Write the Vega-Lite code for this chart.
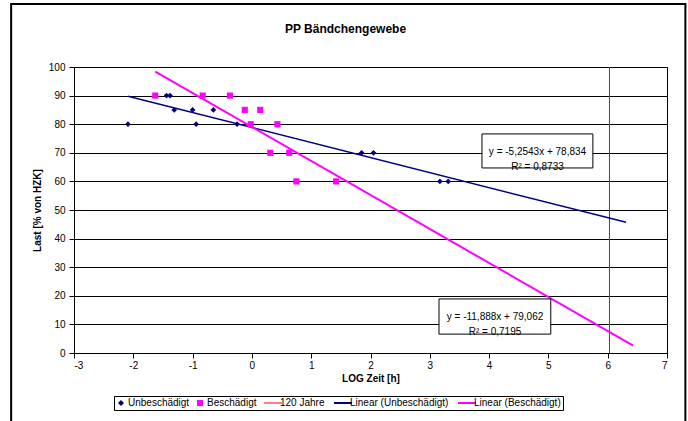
{
  "$schema": "https://vega.github.io/schema/vega-lite/v6.json",
  "width": 593,
  "height": 286,
  "autosize": {"type": "none"},
  "padding": {"left": 74, "top": 67, "right": 21, "bottom": 68},
  "title": {"text": "PP Bändchengewebe", "anchor": "middle", "dx": -25, "offset": -33, "fontSize": 12, "font": "Liberation Sans", "fontWeight": "bold", "color": "#000"},
  "datasets": {
    "pts": [
      {"x": -2.09, "y": 80, "serie": "Unbeschädigt"},
      {"x": -1.44, "y": 90, "serie": "Unbeschädigt"},
      {"x": -1.38, "y": 90, "serie": "Unbeschädigt"},
      {"x": -1.31, "y": 85, "serie": "Unbeschädigt"},
      {"x": -1.0, "y": 85, "serie": "Unbeschädigt"},
      {"x": -0.94, "y": 80, "serie": "Unbeschädigt"},
      {"x": -0.65, "y": 85, "serie": "Unbeschädigt"},
      {"x": -0.25, "y": 80, "serie": "Unbeschädigt"},
      {"x": 1.85, "y": 70, "serie": "Unbeschädigt"},
      {"x": 2.05, "y": 70, "serie": "Unbeschädigt"},
      {"x": 3.17, "y": 60, "serie": "Unbeschädigt"},
      {"x": 3.31, "y": 60, "serie": "Unbeschädigt"},
      {"x": -1.63, "y": 90, "serie": "Beschädigt"},
      {"x": -0.83, "y": 90, "serie": "Beschädigt"},
      {"x": -0.37, "y": 90, "serie": "Beschädigt"},
      {"x": -0.12, "y": 85, "serie": "Beschädigt"},
      {"x": 0.14, "y": 85, "serie": "Beschädigt"},
      {"x": -0.02, "y": 80, "serie": "Beschädigt"},
      {"x": 0.43, "y": 80, "serie": "Beschädigt"},
      {"x": 0.31, "y": 70, "serie": "Beschädigt"},
      {"x": 0.63, "y": 70, "serie": "Beschädigt"},
      {"x": 0.75, "y": 60, "serie": "Beschädigt"},
      {"x": 1.42, "y": 60, "serie": "Beschädigt"}
    ],
    "lines": [
      {"x": 6.03, "y": 0, "serie": "120 Jahre"},
      {"x": 6.03, "y": 100, "serie": "120 Jahre"},
      {"x": -2.09, "y": 89.8, "serie": "Linear (Unbeschädigt)"},
      {"x": 6.31, "y": 45.7, "serie": "Linear (Unbeschädigt)"},
      {"x": -1.63, "y": 98.4, "serie": "Linear (Beschädigt)"},
      {"x": 6.43, "y": 2.6, "serie": "Linear (Beschädigt)"}
    ],
    "eq": [
      {"x": 4.816, "y": 70.4, "label": "y = -5,2543x + 78,834\nR² = 0,8733"},
      {"x": 4.10, "y": 12.6, "label": "y = -11,888x + 79,062\nR² = 0,7195"}
    ]
  },
  "layer": [
    {
      "data": {"values": [{}]},
      "mark": {"type": "rect", "fill": "transparent", "stroke": "#000", "strokeWidth": 2, "clip": false},
      "encoding": {
        "x": {"datum": -4.06, "type": "quantitative", "scale": {"domain": [-3, 7], "nice": false, "zero": false},
          "axis": {"title": "LOG Zeit [h]", "values": [-3, -2, -1, 0, 1, 2, 3, 4, 5, 6, 7], "tickCount": 30, "labelExpr": "'' + datum.value", "grid": false}},
        "x2": {"datum": 7.31},
        "y": {"datum": 122, "type": "quantitative", "scale": {"domain": [0, 100], "nice": false},
          "axis": {"title": "Last [% von HZK]", "values": [0, 10, 20, 30, 40, 50, 60, 70, 80, 90, 100], "tickCount": 30, "labelExpr": "'' + datum.value", "grid": true}},
        "y2": {"datum": -30}
      }
    },
    {
      "data": {"name": "lines"},
      "mark": {"type": "line", "clip": false},
      "encoding": {
        "x": {"field": "x", "type": "quantitative"},
        "y": {"field": "y", "type": "quantitative"},
        "color": {"field": "serie", "type": "nominal",
          "scale": {"domain": ["Unbeschädigt", "Beschädigt", "120 Jahre", "Linear (Unbeschädigt)", "Linear (Beschädigt)"],
                    "range": ["#000080", "#FF00FF", "#FF0000", "#000080", "#FF00FF"]},
          "legend": {
            "title": null, "orient": "none", "legendX": 40, "legendY": 329, "direction": "horizontal", "columns": 5,
            "strokeColor": "#000", "padding": 2, "columnPadding": 5, "labelOffset": 2, "symbolSize": 324,
            "labelFont": "Liberation Sans", "labelFontSize": 10, "labelColor": "#000",
            "encode": {
              "symbols": {
                "update": {
                  "shape": {"signal": "datum.value === 'Unbeschädigt' ? 'diamond' : datum.value === 'Beschädigt' ? 'square' : 'stroke'"},
                  "size": {"signal": "datum.value === 'Unbeschädigt' ? 36 : datum.value === 'Beschädigt' ? 36 : 324"},
                  "fill": {"signal": "(datum.value === 'Unbeschädigt' || datum.value === 'Beschädigt') ? scale('color', datum.value) : 'transparent'"},
                  "stroke": {"signal": "scale('color', datum.value)"},
                  "strokeWidth": {"signal": "(datum.value === 'Unbeschädigt' || datum.value === 'Beschädigt') ? 0 : (datum.value === '120 Jahre' ? 1 : 2)"},
                  "opacity": {"value": 1}
                }
              }
            }
          }},
        "strokeWidth": {"field": "serie", "type": "nominal", "legend": null,
          "scale": {"domain": ["120 Jahre", "Linear (Unbeschädigt)", "Linear (Beschädigt)"], "range": [1, 2, 2]}},
        "order": {"field": "y", "type": "quantitative"}
      }
    },
    {
      "data": {"name": "pts"},
      "mark": {"type": "point", "filled": true, "opacity": 1},
      "encoding": {
        "x": {"field": "x", "type": "quantitative"},
        "y": {"field": "y", "type": "quantitative"},
        "color": {"field": "serie", "type": "nominal"},
        "shape": {"field": "serie", "type": "nominal", "legend": null,
          "scale": {"domain": ["Unbeschädigt", "Beschädigt"], "range": ["diamond", "square"]}},
        "size": {"field": "serie", "type": "nominal", "legend": null,
          "scale": {"domain": ["Unbeschädigt", "Beschädigt"], "range": [32, 38]}}
      }
    },
    {
      "data": {"values": [{}]},
      "mark": {"type": "rect", "fill": "#fff", "stroke": "#000", "strokeWidth": 1},
      "encoding": {
        "x": {"datum": 3.88, "type": "quantitative"},
        "x2": {"datum": 5.75},
        "y": {"datum": 76.6, "type": "quantitative"},
        "y2": {"datum": 64.7}
      }
    },
    {
      "data": {"values": [{}]},
      "mark": {"type": "rect", "fill": "#fff", "stroke": "#000", "strokeWidth": 1},
      "encoding": {
        "x": {"datum": 3.155, "type": "quantitative"},
        "x2": {"datum": 5.04},
        "y": {"datum": 18.9, "type": "quantitative"},
        "y2": {"datum": 6.6}
      }
    },
    {
      "data": {"name": "eq"},
      "mark": {"type": "text", "font": "Liberation Sans", "fontSize": 10, "color": "#000", "align": "center", "baseline": "middle", "lineBreak": "\n", "lineHeight": 15},
      "encoding": {
        "x": {"field": "x", "type": "quantitative"},
        "y": {"field": "y", "type": "quantitative"},
        "text": {"field": "label", "type": "nominal"}
      }
    }
  ],
  "config": {
    "background": "#ffffff",
    "font": "Liberation Sans",
    "view": {"stroke": "#000", "strokeWidth": 1},
    "axis": {
      "labelFont": "Liberation Sans", "labelFontSize": 10, "labelColor": "#000",
      "titleFont": "Liberation Sans", "titleFontSize": 10, "titleFontWeight": "bold", "titleColor": "#000",
      "domainColor": "#000", "tickColor": "#000", "tickSize": 5, "gridColor": "#000", "gridOpacity": 1, "gridWidth": 1
    },
    "axisY": {"labelPadding": 4, "titlePadding": 6},
    "axisX": {"labelPadding": 2, "titlePadding": 3}
  }
}
